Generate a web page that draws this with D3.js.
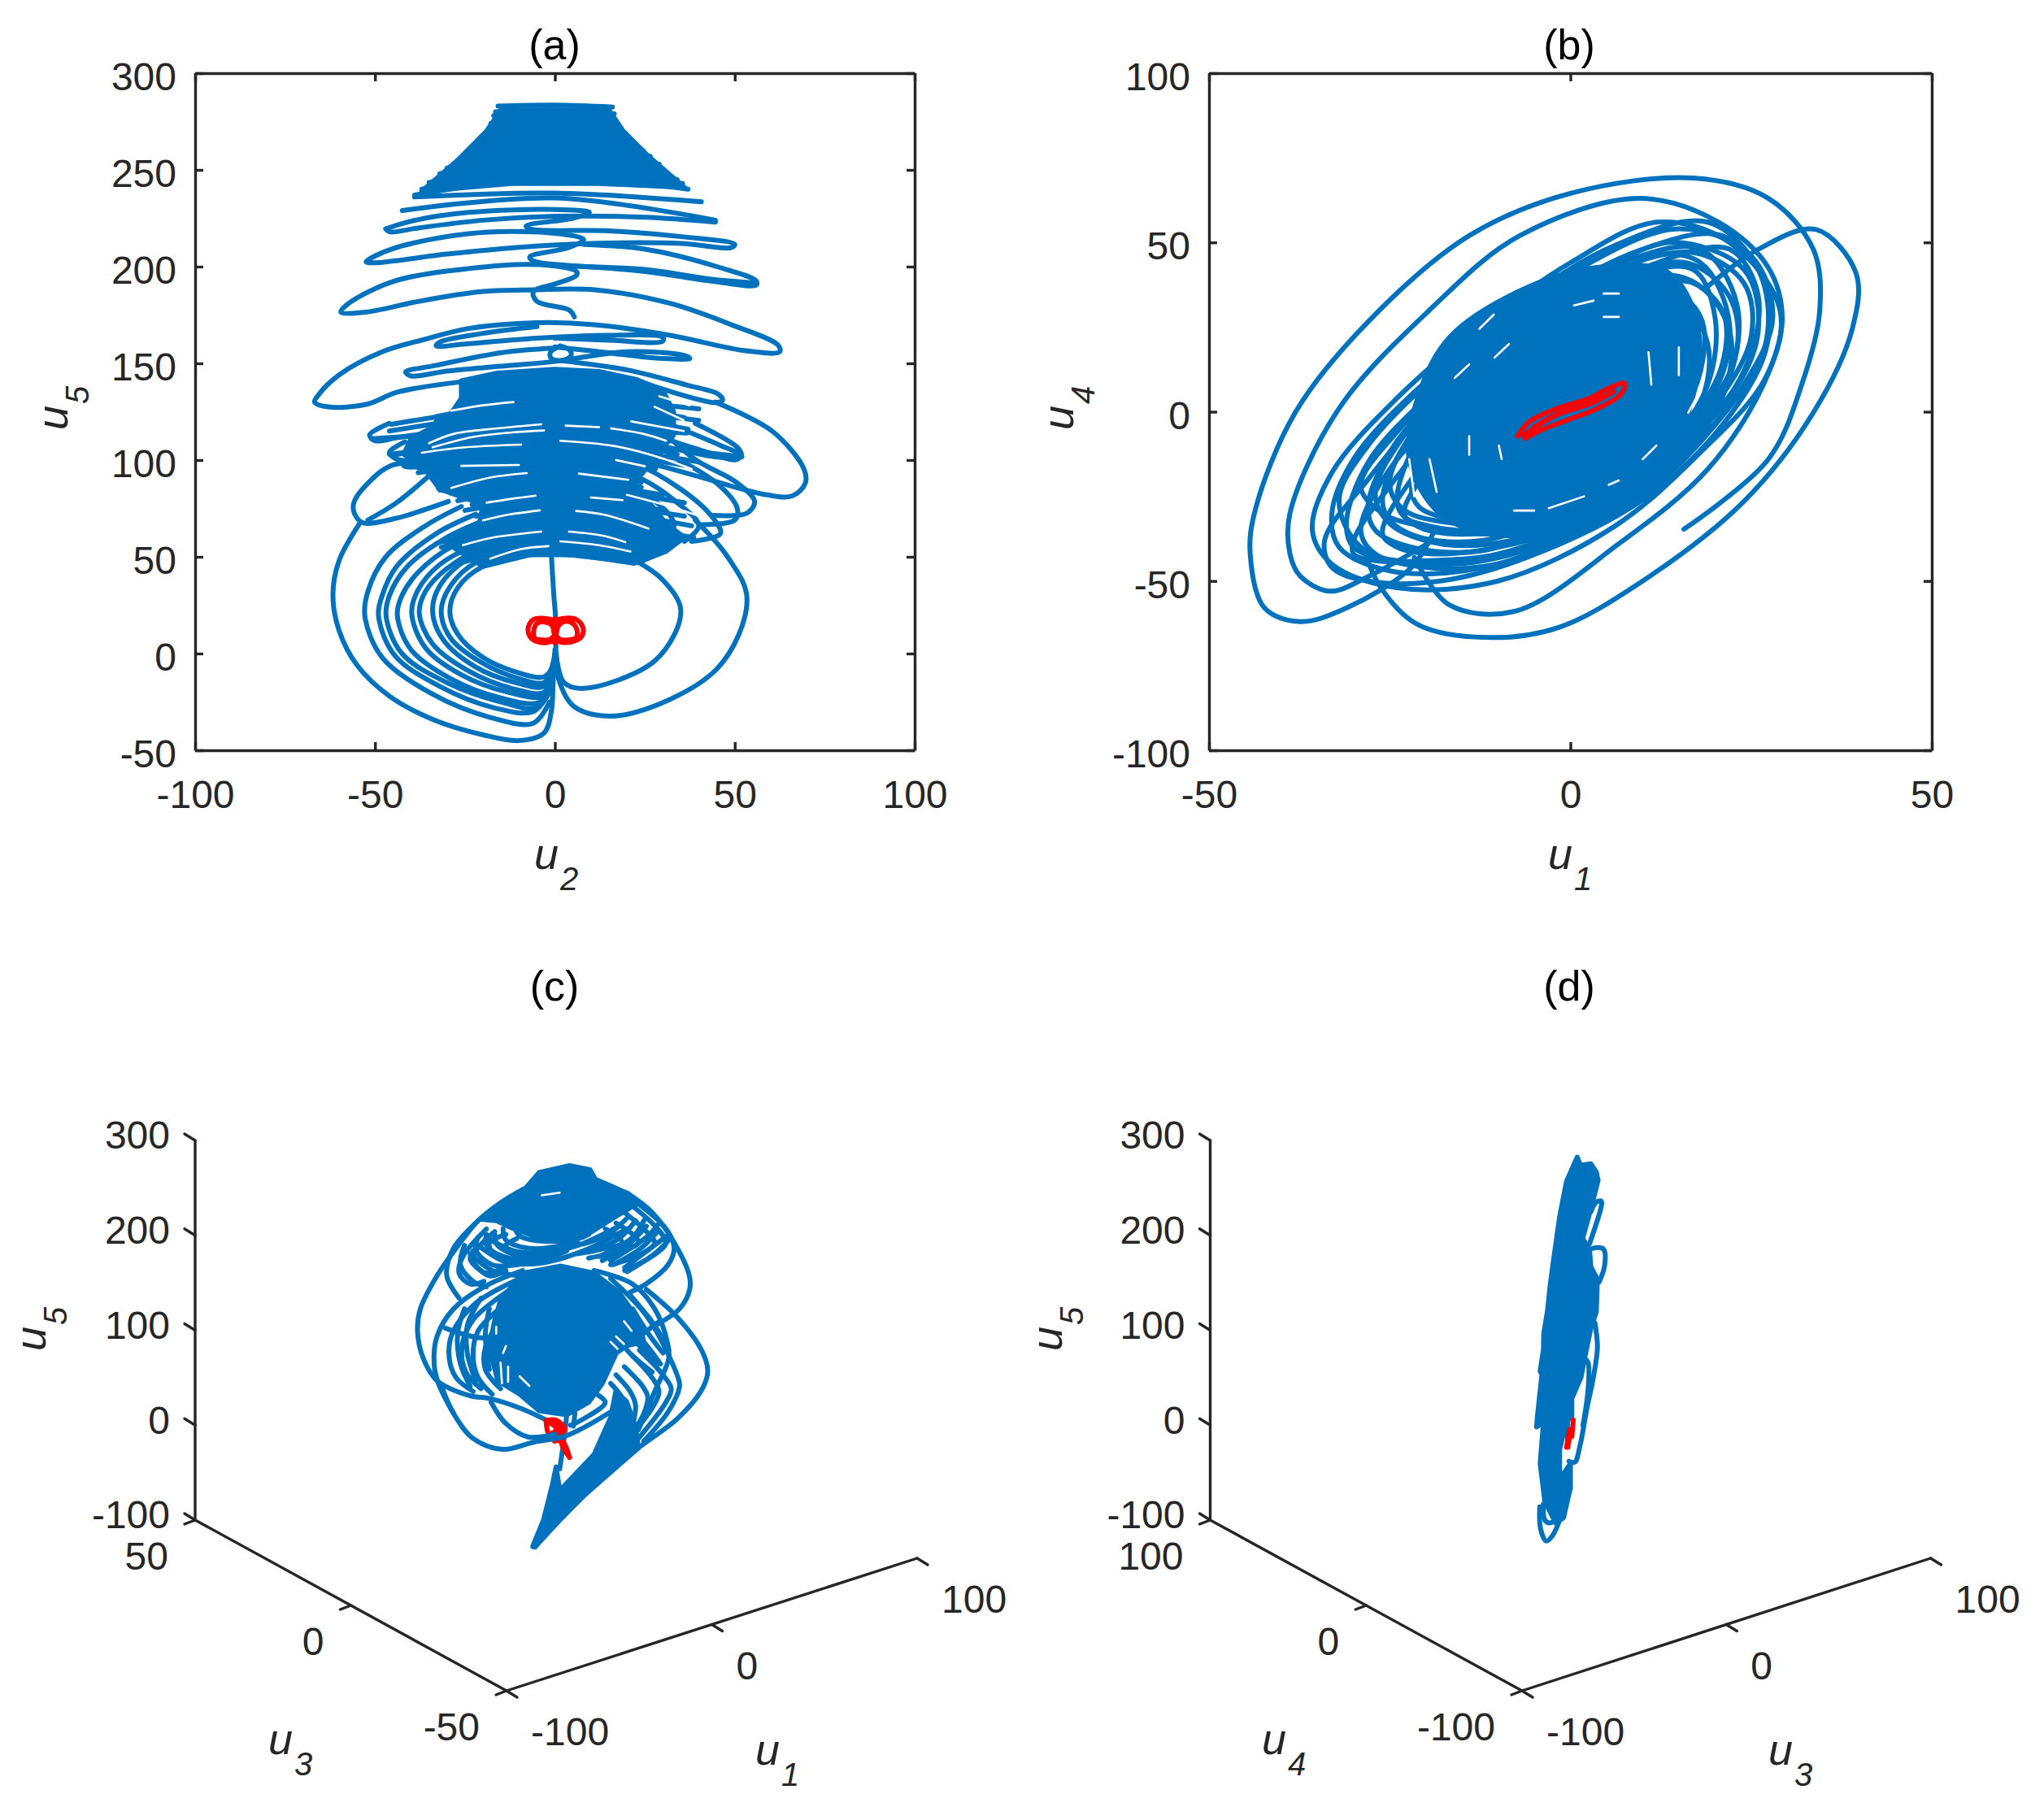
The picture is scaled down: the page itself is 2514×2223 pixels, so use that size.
<!doctype html>
<html>
<head>
<meta charset="utf-8">
<title>Phase portraits</title>
<script src="https://cdn.jsdelivr.net/npm/d3@7/dist/d3.min.js"></script>
<style>
  body { margin: 0; background: #fff; }
  text { font-family: "Liberation Sans", Arial, sans-serif; }
</style>
</head>
<body>
<svg id="chart" width="2514" height="2223"></svg>
<script>
const blue = '#0072BD', red = '#FF0000', ink = '#262626'

// ---- panel (a): u2 / u5. values ----
const aXTicks = [-100, -50, 0, 50, 100]
const aYTicks = [-50, 0, 50, 100, 150, 200, 250, 300]
// solid areas of the attractor
const aSolid = [
  [[-15, 281], [15, 281], [19, 270], [26, 257], [36, 241], [12, 243], [0, 243], [-12, 243], [-37, 239], [-27, 255], [-19, 270]],
  [[-26, 141], [-16, 145], [0, 147], [12.3, 145.8], [22.8, 141.6], [30, 136], [33, 125], [33, 113], [26, 97], [22, 88], [31, 67], [36, 60], [31, 53], [23, 47], [4.3, 51], [-7, 51], [-20, 45], [-30, 57], [-21, 67], [-20, 77], [-32, 85], [-36, 95], [-42, 103], [-40, 111], [-30, 121], [-26, 132]]
]
// rungs: left tip x, y, y at centre, right tip x, y
const aFunnelRows = [
  [-15.8, 283, 283.5, 16, 282.5], [-16.5, 280, 281, 16.5, 279], [-17, 278, 279, 17, 275],
  [-17.8, 274, 276, 18, 272], [-19, 270, 273, 19.5, 269], [-20, 266, 270, 21, 266],
  [-22.6, 262, 267, 22.3, 263], [-25, 258, 264, 24.5, 260], [-27, 254, 261, 26.5, 257],
  [-30, 251, 258, 29, 253], [-32, 248, 255, 31, 249], [-35, 243.5, 252, 34, 245],
  [-37, 240, 249, 35.5, 243], [-39, 237, 246, 37, 240], [-39, 236, 238, 40.7, 233.5], [-42.4, 229, 235.5, 44.6, 224]
]
const aCoreRows = [
  [-33, 122.5, 131, 40, 126.5], [-45.4, 118.5, 129, 36, 122], [-33, 120, 127, 40, 120.5], [-46, 115, 125, 37, 116],
  [-30, 118, 123, 36, 115], [-51, 111, 116, 36.6, 114], [-45, 102.5, 114, 30, 108], [-42, 99, 112, 34, 103],
  [-46, 103, 110, 52, 101.7], [-38, 96, 107, 40, 99], [-42, 97.5, 105, 37, 97], [-31, 94, 103, 28, 95.5],
  [-38, 93.5, 101, 27, 96], [-26, 90, 96, 24, 88.5], [-32, 84.5, 94, 22, 88], [-29, 83, 92, 24, 86],
  [-32, 85, 89, 30, 82], [-27, 79, 86, 36, 78], [-23, 77, 83, 30, 74], [-25, 74, 79, 36, 71], [-22, 71, 76, 38, 66],
  [-21.5, 66.5, 71, 34, 62], [-28, 62, 68, 38.6, 60], [-32, 57.5, 65, 32, 57], [-31.6, 55, 62, 31, 53],
  [-27, 52, 59, 26, 51], [-28, 46, 56, 25, 49]
]
const aStrokes = [
  [[-47, 219.5], [-40, 223.5], [-24, 228], [0, 229.5], [9.6, 228], [5, 225], [-8, 221], [-7, 219.5], [15, 218.5], [35, 215.5], [50, 211.5], [49, 209.8], [35, 212], [10, 212], [-10, 210], [-30, 206.5], [-50, 202], [-52.5, 202.5], [-45.5, 209], [-24, 217], [-2, 217.5], [8, 214], [4, 210], [-7, 205], [-6, 203], [4, 200.5], [25, 198.5], [43.5, 193.5], [56, 191.5]],
  [[8, 211.5], [25, 209], [45, 200], [56, 192.5], [56, 190.5], [43.5, 192.5], [25, 197.5], [4, 200.5]],
  [[-47, 219.5], [-46, 218], [-38, 220], [-20, 224], [0, 226], [25, 225.5], [44.6, 223]],
  [[5.4, 174], [4, 177.5], [-5, 182], [-6, 187], [0, 191], [6, 195.5], [6, 197.5], [-4.5, 201], [-24, 199], [-45.5, 192], [-58, 180], [-59.5, 176.5], [-52.5, 176.5], [-38, 182], [-21, 187], [-6, 188], [11, 188], [32, 181], [49, 170], [62, 159.5], [62.5, 156], [53, 156.5], [32, 164.5], [11, 170], [-5, 171], [-24, 168], [-36, 162.5], [-48, 156], [-60, 144], [-66, 133], [-66.8, 130], [-63, 127.5], [-52, 129], [-44, 135], [-26, 140.5]],
  [[-5, 169], [-20, 165.5], [-32, 161], [-33, 159], [-25, 160], [-5, 163], [15, 164.5], [30, 163.5], [30, 161.5], [15, 162], [0, 163]],
  [[0, 158], [-15, 155.5], [-33, 149], [-41.5, 145.5], [-40, 143.5], [-30, 146], [-15, 148.5], [0, 151], [20, 156], [36, 154], [37.5, 152.5], [30, 152.5], [10, 156.5], [0, 158.5]],
  [[1.5, 159], [4, 157], [4.5, 154], [2, 151.5], [-1, 152.5], [-1.3, 155.5], [1.5, 159]],
  [[1.9, 151.4], [20.4, 146.5], [36.6, 138.8], [45.5, 134], [46.6, 131], [44.6, 129.7], [22.8, 141]],
  [[44.6, 130], [60.5, 114.8], [69.2, 95.5], [69.6, 88], [66, 81.5], [59, 82], [39, 92], [18, 102.7], [12.8, 105]],
  [[32, 118.4], [46, 107.6], [51.3, 102.7], [50.6, 100.3], [40.7, 105], [29, 112]],
  [[39, 119], [51, 106], [51.7, 101.7], [44.6, 101.7], [24.5, 108.7], [1.9, 110]],
  [[30, 115], [39, 100.3], [50.6, 88.3], [55.5, 78.6], [53.4, 72.6], [44, 71.4]],
  [[32, 102.7], [45, 88], [50.7, 75], [50, 69], [40.7, 66.6]],
  [[-20, 92], [-44, 98], [-52, 88], [-56, 77], [-55, 70], [-53, 67.4], [-44, 70], [-29.6, 78.6]],
  [[-52, 69], [-44, 78], [-34.5, 92.6]],
  [[-46, 119], [-51.5, 113], [-50, 110], [-44, 111.5], [-30, 115.7]],
  [[-41.7, 109.4], [-46, 104], [-44, 100.5], [-36, 99.8]],
  [[-42, 99.6], [-42, 97], [-38, 96.5]],
  [[-30, 89], [-32.5, 85.5], [-30, 84]],
  [[0, 108], [20, 100], [35, 85], [44, 70], [46, 62], [38, 58]],
  [[0, 100], [22, 92], [34, 78], [40, 66], [36, 58]],
  [[5, 92], [25, 82], [33, 68], [32, 58]]
]
// rings around the lower part
const aRings = [
  [[22, 46.6], [4, 51], [-7, 51], [-20, 45], [-27, 34], [-29.2, 22], [-27, 10], [-20, -2], [-10, -10], [-3, -12], [-0.5, -6], [0, 2]],
  [[25, 49], [5, 54], [-8, 54], [-22, 47], [-29, 35], [-31.6, 22], [-29, 8], [-21, -4], [-10, -13], [-3, -15], [-1, -8], [0, 0]],
  [[28, 51], [5, 58], [-10, 56.5], [-24, 49], [-32, 35], [-34, 22], [-31, 7], [-22, -7], [-11, -15], [-3, -17], [-1, -9]],
  [[-5, 60], [-18, 56], [-30, 44], [-36, 32], [-37.7, 21], [-34, 5], [-24, -9], [-12, -18], [-3, -20], [-0.8, -10]],
  [[-8, 63], [-22, 56], [-32, 46], [-38, 33], [-39.8, 21], [-36, 3], [-26, -11], [-13, -20], [-3, -22], [-1, -12]],
  [[-14, 66], [-28, 56], [-38, 42], [-42.5, 30], [-43.8, 20], [-40, 2], [-29, -13], [-15, -23], [-4, -25], [-1, -14]],
  [[-18, 70], [-30, 60], [-41, 45], [-46, 30], [-46.9, 19], [-42.5, 0], [-30, -15], [-15, -25], [-5, -28], [-1, -17]],
  [[-22, 72], [-33, 62], [-44, 45], [-48, 30], [-49, 19], [-44.5, -1], [-32, -17], [-17, -28], [-6, -30], [-1.5, -20]],
  [[-26, 76], [-36, 66], [-47, 50], [-52, 32], [-52.8, 19], [-48, -2], [-34, -21], [-18, -33], [-6, -36], [-1.5, -25]],
  [[-54, 68], [-60, 48], [-61.7, 30], [-60, 12], [-55, -6], [-46, -22], [-34, -34], [-20, -42], [-10, -45], [-3, -41], [-1, -30], [-0.5, -15], [0, 0]],
  [[22, 48.5], [30, 38], [35, 22], [28, -3.4], [8, -18], [2.5, -15], [0.4, -1]],
  [[39, 69], [48, 50], [53.4, 28], [45, -8], [18, -32], [5.4, -27.5], [1, -13], [0.4, 0]],
  [[-1, 52], [-0.3, 30], [0.2, 18], [0.2, -10]]
]
// white slits left between bundles of the orbit
const aGaps = [
  [[-28.8, 125.5], [-20, 128.3], [-11.5, 130]],
  [[-35, 108.7], [-28, 113.6], [-16, 116.4], [-3.8, 118.5]],
  [[-34, 106.6], [-22.7, 112], [-11.9, 114.3], [-3, 115.3]],
  [[-37, 103.8], [-25, 106.6], [-9.4, 108]],
  [[-26, 97], [-10, 97.5]],
  [[-28.8, 85.6], [-18, 91], [-7.8, 93.3]],
  [[-19, 78], [-12, 80], [-5.4, 81.6]],
  [[-20, 68.8], [-13.5, 71.6], [-4.2, 74]],
  [[-25.6, 56], [-18, 59.7], [-3.8, 63]],
  [[-18, 49], [-9.4, 54], [-1.8, 55.5]],
  [[3, 117.8], [12.3, 117]],
  [[15.6, 116.4], [24.5, 113.6], [30.9, 110]],
  [[1.5, 110], [16.4, 107.3], [28.5, 101.7], [38, 95.4]],
  [[17, 100], [25, 96.8]],
  [[6.7, 93], [20.4, 89.8]],
  [[10, 80.7], [18.8, 79.3]],
  [[20, 82], [31, 76.5], [42, 70]],
  [[5.9, 73.7], [14, 71.6], [26, 64.6]],
  [[3.9, 63], [13, 61], [19.6, 57.6]],
  [[1.5, 58], [12.3, 56], [21, 52.7]],
  [[29, 133], [37.4, 128.3]],
  [[27.7, 127.6], [35.8, 120.6]],
  [[21.2, 120], [35.8, 115]]
]
const aRed = [
  [[0, 12], [-0.5, 17], [-3, 18.2], [-6, 17.5], [-7.4, 13.5], [-7, 9], [-5, 6.2], [-2, 5.8], [0, 7.5], [0, 12]],
  [[-0.3, 9], [-1.5, 7.2], [-3.5, 7], [-5.6, 8], [-5.9, 11.5], [-5, 15.5], [-2.5, 16.2], [-0.8, 14.5], [-0.3, 11]],
  [[0, 12], [0.5, 17], [3, 18.3], [6, 17.5], [7.8, 13.5], [7.5, 9], [5, 6.2], [2, 5.8], [0, 7.5]],
  [[0.5, 9], [1.5, 7.2], [3.5, 7], [5.8, 8], [6.2, 11.5], [5, 15.5], [2.8, 16.6], [0.9, 14], [0.5, 11]],
  [[0, 5.5], [0, 18]]
]

// ---- panel (b): u1 / u4 ----
const bXTicks = [-50, 0, 50]
const bYTicks = [-100, -50, 0, 50, 100]
const bBlob = [[[-16.8, 21.8], [-7.1, 35.6], [3.2, 42.5], [13.6, 41], [17.7, 24.5], [16.3, -0.3], [10.8, -21], [-0.2, -34.7], [-11.2, -36], [-18, -30.3], [-22.3, -14], [-21, 5]]]
const bOpen = [
  [[-19, -36], [-22, -46], [-31, -58], [-37.4, -62], [-42.3, -58], [-44.3, -42], [-43.6, -29], [-38, 0], [-27.8, 27], [-14, 52], [0, 64.5], [17, 69], [27.4, 63], [33.6, 48], [34.5, 30], [32, 8], [27.4, -14], [15.7, -34.7]],
  [[19, 37], [26, 48], [34, 53.8], [39.5, 41], [39, 24.5], [33.6, -0.3], [24, -26.5], [10, -50], [-1.6, -63.7], [-11, -66.7], [-21, -63], [-26, -52.7], [-28.5, -41.6]],
  [[-21.6, -43], [-16.8, -57], [-7.8, -59], [6.7, -39], [19, -17], [26.7, 8], [29.3, 27], [27.4, 42.5], [20.5, 56], [9.4, 63], [-7, 52], [-19.5, 30], [-32, 1], [-38.8, -30], [-38.8, -42], [-37.4, -48.5], [-33.3, -53], [-27.8, -48.5], [-19, -38]]
]
const bLoops = [
  [[-35.7, -35], [-33, -18], [-24, 4], [-12, 26], [0, 44], [12, 56], [22, 50], [29, 30], [27, 10], [18, -12], [6, -34], [-10, -50], [-24, -52], [-33, -45]],
  [[-33, -30], [-30, -14], [-22, 5], [-11, 24], [1, 42], [15, 54], [25, 46], [28, 28], [24, 8], [16, -12], [3, -33], [-12, -46], [-25, -47], [-32, -40]],
  [[-31, -33], [-28, -15], [-20, 4], [-9, 24], [3, 40], [14, 50], [24, 42], [26, 24], [22, 4], [13, -14], [1, -34], [-12, -44], [-24, -44], [-30, -40]],
  [[-28, -28], [-25, -12], [-18, 6], [-8, 26], [4, 40], [17, 47], [24, 38], [25, 22], [20, 2], [11, -17], [0, -31], [-12, -41], [-22, -40], [-27, -35]],
  [[-26, -26], [-23, -10], [-16, 8], [-6, 25], [5, 38], [16, 44], [22, 34], [23, 18], [18, -2], [9, -19], [-1, -30], [-12, -38], [-21, -37], [-25, -32]],
  [[-24, -26], [-21, -8], [-13, 10], [-4, 24], [6, 35], [15, 40], [21, 30], [21, 14], [16, -4], [7, -20], [-3, -30], [-12, -35], [-19, -34], [-23, -31]],
  [[-22, -23], [-19, -6], [-12, 10], [-3, 23], [6, 33], [13, 37], [18, 28], [18, 12], [14, -5], [6, -20], [-4, -28], [-12, -33], [-18, -31], [-21, -28]],
  [[-34, -38], [-28, -20], [-16, 10], [-4, 32], [10, 48], [21, 52], [27, 38], [27, 18], [21, -4], [10, -26], [-6, -43], [-18, -50], [-28, -50], [-33, -46]],
  [[-30, -38], [-25, -22], [-13, 8], [0, 30], [12, 44], [22, 48], [26, 34], [24, 12], [16, -10], [4, -30], [-10, -42], [-20, -44], [-27, -44], [-30, -42]],
  [[-29, -22], [-24, -6], [-14, 14], [-2, 34], [10, 46], [18, 44], [22, 26], [20, 6], [12, -14], [2, -29], [-10, -36], [-20, -34], [-26, -30]],
  [[-25, -21], [-21, -4], [-12, 14], [-2, 29], [8, 40], [17, 42], [20, 28], [19, 8], [13, -11], [4, -25], [-7, -33], [-16, -33], [-23, -29]],
  [[-27, -24], [-23, -7], [-15, 11], [-5, 30], [7, 44], [18, 48], [23, 32], [22, 10], [15, -12], [5, -28], [-8, -38], [-18, -39], [-25, -33]],
  [[-32, -26], [-28, -10], [-19, 10], [-7, 32], [6, 49], [19, 56], [26, 42], [27, 20], [20, -4], [8, -28], [-8, -44], [-20, -46], [-29, -40]],
  [[-29, -35], [-25, -17], [-17, 1], [-6, 20], [6, 34], [17, 38], [22, 24], [21, 4], [14, -16], [3, -33], [-10, -43], [-21, -45], [-27, -42]],
  [[-26, -36], [-22, -20], [-14, -2], [-4, 16], [7, 30], [15, 33], [19, 20], [18, 2], [12, -18], [1, -33], [-10, -40], [-19, -42], [-24, -40]],
  [[-23, -30], [-19, -15], [-12, 2], [-2, 18], [8, 29], [14, 31], [17, 18], [15, 1], [10, -15], [1, -29], [-9, -35], [-17, -36], [-21, -34]]
]
const bGaps = [
  [[-12.6, 24.5], [-10.6, 28.7]], [[0.5, 31.4], [3.2, 32.8]], [[4.6, 34.9], [6.7, 34.9]], [[4.6, 28], [6.7, 28]],
  [[10.8, 17.6], [11.2, 8]], [[15, 19], [15, 10.8]], [[-14, -7.2], [-14, -12.7]], [[-9.9, -10], [-9.5, -14]],
  [[-19.5, -14], [-18.5, -23.7]], [[-7.8, -29.2], [-5, -29.2]], [[-3, -28.5], [1.9, -25]], [[5.3, -21.6], [6.7, -20.3]],
  [[10, -14], [11.9, -10]], [[16.3, -0.3], [17.7, 5.2]], [[-22.3, -14], [-21.6, -25]], [[-16, 10], [-14, 14]], [[-10.5, 16], [-8.5, 20]]
]
const bRed = [
  [[-7.3, -7.2], [-5.7, -3], [-1.6, 1.1], [2.6, 3.9], [5.3, 6.9], [7.5, 8.3], [7, 5.2], [3.9, 1.1], [-0.2, -2.3], [-3.7, -5.1], [-6.3, -7.9]],
  [[-6.5, -7], [-4, -3.5], [-1, 0], [3, 2.5], [6, 6]],
  [[-5, -4.5], [-2, -1], [1.5, 1.5], [4.5, 4.5]]
]

// ---- panels (c), (d): 3-d views, read as horizontal position in axis units and height in u5 ----
const cZTicks = [-100, 0, 100, 200, 300]
const cLeftTicks = [50, 0, -50]
const cRightTicks = [-100, 0, 100]
const dLeftTicks = [100, 0, -100]
const dRightTicks = [-100, 0, 100]
const cSolid = [
  [[-15.4, 131.3], [-9.3, 160.3], [1.4, 167.6], [10.5, 160.3], [17.4, 140], [22.8, 111], [24.3, 87.8], [17.4, 82], [12.8, 44], [9, 24], [2.9, 10.8], [-4.7, 15.2], [-10.1, 32.6], [-16.2, 47], [-18.5, 82], [-17, 111]],
  [[-8.6, 249], [-4.7, 266.3], [3.7, 273.6], [9.4, 269.2], [10.9, 259], [19.7, 244.5], [22.8, 234.4], [15.9, 218.4], [7.5, 198], [-3.2, 195], [-12.4, 208], [-16.6, 215.5], [-20.8, 217]],
  [[-6.5, -128], [-3.5, -100], [-1, -62], [0, -44], [1, -69], [10.5, -31], [15.1, 8], [16.5, 35], [19.5, 25], [22, -2], [22.8, -24], [7.5, -75]]
]
const cStrokes = [
  [[-9, 249], [-15.4, 234.4], [-21.6, 215.5], [-27.7, 186.5], [-33, 157.4], [-37.6, 122.6], [-38.4, 99.4], [-36.8, 70.3], [-33, 47], [-23.8, 31], [-18.5, 28.2], [-10, 18], [-2.5, 5]],
  [[19.7, 244.5], [26.6, 224.2], [32.7, 192.3], [36.9, 157.4], [37, 143], [34.2, 122.6], [28.1, 106.6]],
  [[25, 143], [33.5, 114], [40.3, 79], [42, 57], [40.3, 37], [33.5, 6.5], [22.8, -24], [7.5, -75], [-5.9, -128.6]],
  [[22.8, 233], [30.4, 207], [32.7, 186.5], [31, 169], [25, 149], [20.5, 140]],
  [[20.5, 233], [28.1, 207], [30.4, 192], [26.6, 178], [19, 163]],
  [[19, 224], [25, 204], [27.3, 192], [22.8, 179], [15.1, 169]],
  [[16.6, 213], [21.2, 201], [22.8, 192], [17.4, 183.5], [9, 176]],
  [[13.6, 207], [17.4, 198], [18.2, 192], [12, 185], [6, 180.6]],
  [[-21.6, 215.5], [-28.4, 186.5], [-30.3, 157.4], [-26.9, 134]],
  [[-19.3, 206.8], [-25.8, 177.8], [-26.9, 160.3], [-23.8, 148.7], [-20, 151.6]],
  [[-17, 204], [-22.3, 183.6], [-23, 173.4], [-18.5, 157.4], [-13.9, 163]],
  [[-13.9, 201], [-18.5, 192], [-17, 179], [-10, 170.5], [-2.5, 176]],
  [[-10.9, 196.6], [-14.7, 186.5], [-7.8, 176], [-0.2, 179]],
  [[-9.3, 163], [-20, 145.8], [-28.4, 122.6], [-33, 93.5], [-33.8, 64.5], [-32.6, 44], [-28.4, 12.3]],
  [[-10.1, 154.5], [-22.3, 128.4], [-28.8, 96.4], [-29.6, 70.3], [-27.7, 50], [-23, 35.5]],
  [[-11.6, 145.8], [-23, 111], [-26.1, 82], [-25, 55.8], [-20.8, 38.4]],
  [[-13.9, 128.4], [-21.6, 99.4], [-23, 73.2], [-21.6, 50], [-17.7, 32.5]],
  [[-15.4, 111], [-19.6, 82], [-19.6, 58.7], [-15.4, 38.4]],
  [[-30.7, 102.3], [-20.8, 92], [-13.9, 96.4]],
  [[10.5, 163], [21.2, 148.7], [27.3, 122.6], [30.8, 87.7], [31.2, 70.3], [27.3, 35.5], [22.8, -5]],
  [[15.1, 154.5], [23.5, 122.6], [27.7, 99.4], [33.5, 53], [34.2, 41.3], [31.2, 15], [24.3, -16.8]],
  [[23.1, 79], [29.6, 53], [31.9, 38.4], [30.4, 24], [22.8, -14]],
  [[21.2, 73], [26.6, 50], [28.5, 35.5], [26.6, 18], [22, -5]],
  [[18.9, 61.6], [23.9, 41.3], [25.4, 29.6], [24.3, 12.3], [21.2, -8]],
  [[16.6, 53], [20.5, 35.5], [22, 21], [21.2, 0.6]],
  [[15.1, 44], [18.2, 29.6], [19.3, 18], [19, -2]],
  [[18.2, 105], [22.8, 93.5], [28.9, 64.5]],
  [[22.8, 85], [27.3, 64.5]],
  [[28.1, 108], [21.2, 88], [16.6, 76]],
  [[2.9, 9.4], [2.1, -17], [1, -46]],
  [[5.2, 12], [4.8, -1]],
  [[11.3, 32.5], [13.6, 24], [7.5, 6.4], [4, 0]],
  [[-19.3, 198], [-11.6, 183.6], [-3.2, 182], [6, 189.4], [17.4, 209.7]],
  [[-21.6, 189.4], [-13.9, 172], [-4.7, 170.5], [7.5, 183.6], [19.7, 207]],
  [[-23.8, 180.6], [-17.7, 163], [-9.3, 157.4]],
  [[12, 177.8], [21.2, 198], [24.3, 215.5]],
  [[15.1, 173.4], [25, 198], [28.5, 212.6]],
  [[19, 166], [28.1, 192], [31.2, 201]],
  [[20.5, 137], [27.3, 105], [31.2, 79]],
  [[21.2, 122.6], [25, 99.4], [29.6, 76]],
  [[18.9, 111], [25, 82], [28.1, 64.5]],
  [[15.1, 99.4], [21.2, 73], [26.6, 56]],
  [[-25.4, 189.4], [-26.5, 169], [-23, 151.6], [-19.3, 145.8]],
  [[-23, 183.6], [-23.8, 175], [-19.3, 160.3], [-13.1, 169]],
  [[-21.6, 198], [-22.3, 185], [-17.7, 169], [-10.9, 169], [-0.2, 177.8]],
  [[-19.3, 201], [-19.3, 189.4], [-14.7, 177.8], [-5.5, 173.4], [2.9, 183.6]],
  [[-17, 201], [-16.2, 189.4], [-10.1, 179], [-2.5, 179], [6, 192.3]],
  [[-14.7, 206.8], [-13.9, 195], [-7.8, 186.5], [-0.2, 188], [9, 201]],
  [[-11.6, 209.7], [-10.1, 199.5], [-3.2, 193.7], [6, 198], [14.4, 215.5]],
  [[7.5, 190.8], [14.4, 201], [19.7, 218.4]],
  [[9.8, 183.6], [17.4, 196.6], [22, 215.5]],
  [[12.8, 173.4], [19.7, 189.4], [25, 209.7]],
  [[15.9, 169], [23.5, 186.5], [28.1, 204]],
  [[19.7, 161.8], [27.3, 180.6], [31.2, 195]],
  [[-25.4, 122.6], [-27.3, 96.4], [-26.5, 64.5], [-23.8, 41]],
  [[-20.8, 134], [-24.6, 105], [-24.6, 76], [-22.3, 47]],
  [[-18.5, 122.6], [-19.6, 96.4], [-18.5, 58.7]]
]
const cGaps = [
  [[-4, 242.2], [1, 245]], [[-13.9, 83.4], [-14.7, 76]], [[-10.1, 51.4], [-7.4, 41.3]], [[-15.4, 66], [-15, 44.2]],
  [[-13.3, 61.6], [-13.3, 45.6]], [[15.1, 87.7], [17, 80.5]], [[16.6, 93.5], [18.8, 85.4]], [[18.8, 109.5], [20.9, 99.4]],
  [[-16.6, 103.7], [-16.6, 96.4]]
]
const cRed = [
  [[-2.8, 5], [0.2, 5], [2.5, -5], [-1.7, -11], [-2.8, 5]],
  [[-1.5, 2], [0.5, 1], [1.2, -5], [-1, -8]],
  [[-2, 3], [0, -3], [-0.5, -8]],
  [[-0.5, -16.8], [1.7, -16.8], [3.7, -34]],
  [[1, -14], [2, -24], [3.7, -34]]
]
// the two loops that pass in front of the red orbit
const cOver = [
  [[-31.5, 38.4], [-28.4, 12.3], [-23, -14], [-14.7, -25.5], [-6.3, -18], [2.9, -11], [15, 13.7]],
  [[-18, 24], [-14, 2], [-7.8, -12.4], [-0.2, -9.5]]
]
const dSolid = [[[1.9, 282.4], [2.8, 273.8], [5.7, 275.3], [7.2, 266.7], [7.7, 258], [5.7, 228], [3.4, 196.7], [5.3, 185], [5.7, 166.7], [7.5, 153.8], [7.2, 119.5], [5.7, 102.4], [3.8, 68], [3, 51], [0.4, 28], [0.4, 8], [-1.1, 5], [-3, -26], [-3, -57.6], [0, -40.5], [0, -66], [-1.9, -97.6], [-4.1, -103], [-7.1, -80.5], [-8.4, -40.5], [-7.5, 2.4], [-9.4, -1.9], [-9.2, 8], [-7.9, 53.8], [-8.4, 56.7], [-7.5, 79.5], [-7.4, 96.7], [-6.4, 119.5], [-5.6, 148], [-4.9, 168], [-3, 219.5], [-1.1, 256.7]]]
const dStrokes = [
  [[5.3, 185], [7, 187], [9.2, 185.5], [9.5, 168], [8, 151]],
  [[5.7, 225], [7.2, 235], [8.6, 236], [8.6, 231], [5.3, 191]],
  [[6.8, 108], [7.5, 82], [6.4, 51], [4.5, 16], [2.7, -21], [1.2, -39], [-0.4, -38]],
  [[4, 70], [4.9, 66], [4.9, 37], [3.5, 0]],
  [[-8.5, -86], [-8.3, -109], [-6.7, -122], [-4.9, -116], [-2.2, -92], [0, -66]],
  [[-7.5, -83], [-7.1, -100], [-5.6, -103], [-3.7, -98]],
  [[-0.8, 6], [-0.8, -20]]
]
const dRed = [
  [[0.8, 5.3], [0.4, -11.9]],
  [[-0.2, -4.8], [-1.1, -23.3]],
  [[0.1, -4.8], [-0.7, -23.3]]
]

const svg = d3.select('#chart')
svg.append('rect').attr('width', 2514).attr('height', 2223).attr('fill', '#fff')

const smooth = d3.line().curve(d3.curveCatmullRom.alpha(0.5))
const smoothClosed = d3.line().curve(d3.curveCatmullRomClosed.alpha(0.5))
const straightClosed = d3.line().curve(d3.curveLinearClosed)

function drawMarks(g, x, y, sets) {
  const toPx = pts => pts.map(d => [x(d[0]), y(d[1])])
  const add = (rows, gen, color, fill, width) => g.append('g').selectAll('path').data(rows).join('path')
    .attr('d', d => gen(toPx(d)))
    .attr('fill', fill ? color : 'none')
    .attr('stroke', color)
    .attr('stroke-width', width || 6)
    .attr('stroke-linecap', 'round')
    .attr('stroke-linejoin', 'round')
  if (sets.solid) add(sets.solid, straightClosed, blue, true)
  if (sets.blob) add(sets.blob, smoothClosed, blue, true)
  if (sets.rows) add(sets.rows.map(r => [[r[0], r[1]], [0, r[2]], [r[3], r[4]]]), smooth, blue)
  if (sets.strokes) add(sets.strokes, smooth, blue)
  if (sets.loops) add(sets.loops, smoothClosed, blue)
  if (sets.gaps) add(sets.gaps, smooth, '#fff', false, 2.6)
  if (sets.red) add(sets.red, smooth, red)
  if (sets.over) add(sets.over, smooth, blue)
}

function axisLabel(parent, sub, px, py, rotate) {
  const t = parent.append('text')
    .attr('transform', `translate(${px},${py})` + (rotate ? ' rotate(-90)' : ''))
    .attr('fill', ink).attr('font-style', 'italic').attr('font-size', 54)
  t.append('tspan').text('u')
  t.append('tspan').attr('dy', 26).attr('dx', 2).attr('font-size', 40).text(sub)
}

function title(text, px, py) {
  svg.append('text').attr('x', px).attr('y', py).attr('text-anchor', 'middle')
    .attr('font-size', 52).attr('fill', '#000').text(text)
}

function styleAxis(sel) {
  sel.selectAll('path,line').attr('stroke', ink).attr('stroke-width', 3.4)
  sel.selectAll('text').attr('fill', ink).attr('font-size', 48).attr('font-family', '"Liberation Sans", Arial, sans-serif')
  sel.attr('font-family', null)
}

function plot2d(box, xDomain, yDomain, xTicks, yTicks, marks) {
  const x = d3.scaleLinear().domain(xDomain).range([box.left, box.right])
  const y = d3.scaleLinear().domain(yDomain).range([box.bottom, box.top])
  const g = svg.append('g')
  drawMarks(g, x, y, marks)
  // hyphen labels as in the original figure, not the typographic minus
  const bottom = d3.axisBottom(x).tickValues(xTicks).tickSize(-10).tickSizeOuter(0).tickPadding(37).tickFormat(String)
  const left = d3.axisLeft(y).tickValues(yTicks).tickSize(-10).tickSizeOuter(0).tickPadding(23).tickFormat(String)
  const top = d3.axisTop(x).tickValues(xTicks).tickSize(-10).tickSizeOuter(0).tickFormat('')
  const right = d3.axisRight(y).tickValues(yTicks).tickSize(-10).tickSizeOuter(0).tickFormat('')
  g.append('g').attr('transform', `translate(0,${box.bottom})`).call(bottom).call(styleAxis)
  const l = g.append('g').attr('transform', `translate(${box.left},0)`).call(left).call(styleAxis)
  l.selectAll('text').attr('dy', '.43em')
  g.append('g').attr('transform', `translate(0,${box.top})`).call(top).call(styleAxis)
  g.append('g').attr('transform', `translate(${box.right},0)`).call(right).call(styleAxis)
}

function plot3d(box, leftTicks, rightTicks, marks) {
  const g = svg.append('g')
  const x = d3.scaleLinear().domain([-100, 100]).range([box.x0, box.x1])
  const z = d3.scaleLinear().domain([-100, 300]).range([box.bottom, box.top])
  drawMarks(g, x, z, marks)
  // floor axes run between three corners of the box
  const c0 = [box.x0, box.bottom], c1 = [box.cornerX, box.floorY], c2 = [box.x1, box.endY]
  const leftAxis = d3.scaleLinear().domain([leftTicks[0], leftTicks[2]]).range([c0, c1])
  const rightAxis = d3.scaleLinear().domain([rightTicks[0], rightTicks[2]]).range([c1, c2])
  const seg = (a, b) => g.append('line').attr('x1', a[0]).attr('y1', a[1]).attr('x2', b[0]).attr('y2', b[1])
    .attr('stroke', ink).attr('stroke-width', 3.4).attr('stroke-linecap', 'round')
  const label = (text, px, py, anchor) => g.append('text').attr('x', px).attr('y', py).attr('dy', '.36em')
    .attr('text-anchor', anchor).attr('font-size', 48).attr('fill', ink).text(text)
  seg([box.x0, z(300)], c0); seg(c0, c1); seg(c1, c2)
  cZTicks.forEach(v => {
    seg([box.x0, z(v)], [box.x0 - 13, z(v) - 8])
    label(v, box.x0 - 31, z(v) - 7, 'end')
  })
  leftTicks.forEach(v => {
    const p = leftAxis(v)
    seg(p, [p[0] - 13, p[1] + 5])
    label(v, p[0] - 33, p[1] + 44, 'end')
  })
  rightTicks.forEach(v => {
    const p = rightAxis(v)
    seg(p, [p[0] + 13, p[1] + 8])
    label(v, p[0] + 30, p[1] + 50, 'start')
  })
}

plot2d({ left: 240, right: 1125, top: 90, bottom: 923 }, [-100, 100], [-50, 300], aXTicks, aYTicks,
  { solid: aSolid, rows: aFunnelRows.concat(aCoreRows), strokes: aStrokes.concat(aRings), gaps: aGaps, red: aRed })
plot2d({ left: 1487, right: 2376, top: 90, bottom: 923 }, [-50, 50], [-100, 100], bXTicks, bYTicks,
  { blob: bBlob, strokes: bOpen, loops: bLoops, gaps: bGaps, red: bRed })
plot3d({ x0: 240, x1: 1128, top: 1403, bottom: 1870, cornerX: 623, floorY: 2080, endY: 1917 }, cLeftTicks, cRightTicks,
  { solid: cSolid, strokes: cStrokes, gaps: cGaps, red: cRed, over: cOver })
plot3d({ x0: 1488.5, x1: 2374.5, top: 1403, bottom: 1870, cornerX: 1872, floorY: 2080, endY: 1917 }, dLeftTicks, dRightTicks,
  { solid: dSolid, strokes: dStrokes, red: dRed })

title('(a)', 682, 73)
title('(b)', 1930, 73)
title('(c)', 682, 1231)
title('(d)', 1930, 1231)

axisLabel(svg, '2', 657, 1069)
axisLabel(svg, '1', 1904, 1069)
axisLabel(svg, '5', 83, 529, true)
axisLabel(svg, '4', 1320, 529, true)
axisLabel(svg, '3', 330, 2158)
axisLabel(svg, '1', 929, 2171)
axisLabel(svg, '5', 56, 1662, true)
axisLabel(svg, '4', 1552, 2158)
axisLabel(svg, '3', 2175, 2171)
axisLabel(svg, '5', 1306, 1662, true)
</script>
</body>
</html>
